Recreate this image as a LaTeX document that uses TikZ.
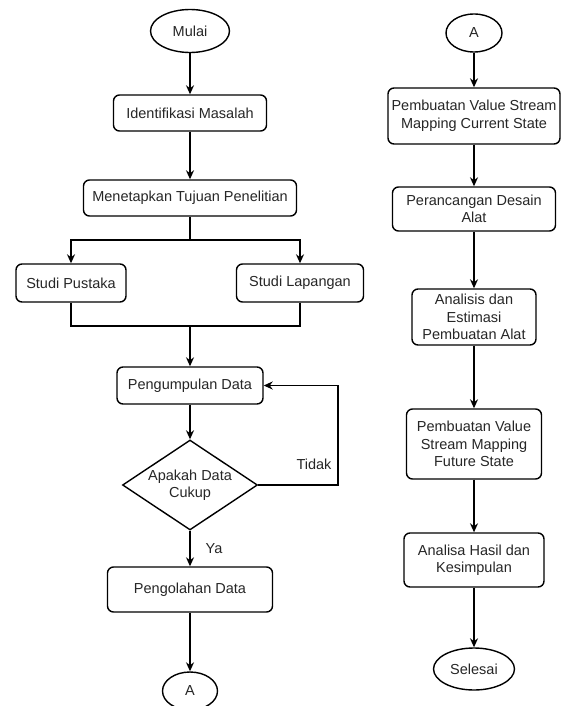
\documentclass[tikz,border=0pt]{standalone}
\usepackage{fontspec}
\setmainfont{Liberation Sans}
\usetikzlibrary{shapes,arrows.meta,positioning}

\tikzset{
  proses/.style={draw, line width=1.4pt, rounded corners=6pt, align=center, inner sep=1pt, text=black!85},
  terminal/.style={draw, line width=1.4pt, ellipse, inner sep=0pt, text=black!85},
  keputusan/.style={draw, line width=1.4pt, diamond, aspect=1.5, inner sep=0pt, align=center, text=black!85},
  panah/.style={line width=1.4pt, -{Stealth[length=9pt,width=8pt]}},
  garis/.style={line width=1.4pt},
  label/.style={text=black!85}
}

\begin{document}
\begin{tikzpicture}[x=1pt, y=-1pt, font=\fontsize{14.5}{17.5}\selectfont]
    \useasboundingbox (0,0) rectangle (560,706);

    % kolom kiri
    \node[terminal, minimum width=79pt, minimum height=43pt] (mulai) at (190,31) {Mulai};
    \node[proses, minimum width=153pt, minimum height=36pt] (identifikasi) at (190,113) {Identifikasi Masalah};
    \node[proses, minimum width=213pt, minimum height=36pt] (tujuan) at (190,198) {Menetapkan Tujuan Penelitian};
    \node[proses, minimum width=110pt, minimum height=38pt] (pustaka) at (71,283) {Studi Pustaka};
    \node[proses, minimum width=127pt, minimum height=38pt] (lapangan) at (300,283) {Studi Lapangan};
    \node[proses, minimum width=146pt, minimum height=37pt] (pengumpulan) at (190,385.5) {Pengumpulan Data};
    \node[keputusan, minimum width=135pt, minimum height=90pt] (cukup) at (190,485) {Apakah Data\\Cukup};
    \node[proses, minimum width=165pt, minimum height=45pt] (pengolahan) at (190,589.5) {Pengolahan Data};
    \node[terminal, minimum width=55pt, minimum height=38pt] (akiri) at (190,691) {A};

    \coordinate (cabang) at (190,240);
    \coordinate (gabung) at (190,326);
    \coordinate (balik) at (338,485);

    \node[label] (tidak) at (314,464) {Tidak};
    \node[label] (ya) at (214,549) {Ya};

    \draw[panah] (mulai) -- (identifikasi);
    \draw[panah] (identifikasi) -- (tujuan);
    \draw[garis] (tujuan) -- (cabang);
    \draw[panah] (cabang) -| (pustaka);
    \draw[panah] (cabang) -| (lapangan);
    \draw[garis] (pustaka) |- (gabung);
    \draw[garis] (lapangan) |- (gabung);
    \draw[panah] (gabung) -- (pengumpulan);
    \draw[panah] (pengumpulan) -- (cukup);
    \draw[panah] (cukup.east) -- (balik) |- (pengumpulan.east);
    \draw[panah] (cukup) -- (pengolahan);
    \draw[panah] (pengolahan) -- (akiri);

    % kolom kanan
    \node[terminal, minimum width=56pt, minimum height=38pt] (akanan) at (474,33) {A};
    \node[proses, minimum width=172pt, minimum height=56pt] (current) at (474,116) {Pembuatan Value Stream\\Mapping Current State};
    \node[proses, minimum width=163pt, minimum height=44pt] (desain) at (474,209) {Perancangan Desain\\Alat};
    \node[proses, minimum width=124pt, minimum height=56pt] (estimasi) at (474,317) {Analisis dan\\Estimasi\\Pembuatan Alat};
    \node[proses, minimum width=135pt, minimum height=70pt] (future) at (474,444) {Pembuatan Value\\Stream Mapping\\Future State};
    \node[proses, minimum width=140pt, minimum height=54pt] (hasil) at (474,560) {Analisa Hasil dan\\Kesimpulan};
    \node[terminal, minimum width=81pt, minimum height=42pt] (selesai) at (474,669) {Selesai};

    \draw[panah] (akanan) -- (current);
    \draw[panah] (current) -- (desain);
    \draw[panah] (desain) -- (estimasi);
    \draw[panah] (estimasi) -- (future);
    \draw[panah] (future) -- (hasil);
    \draw[panah] (hasil) -- (selesai);
\end{tikzpicture}
\end{document}
